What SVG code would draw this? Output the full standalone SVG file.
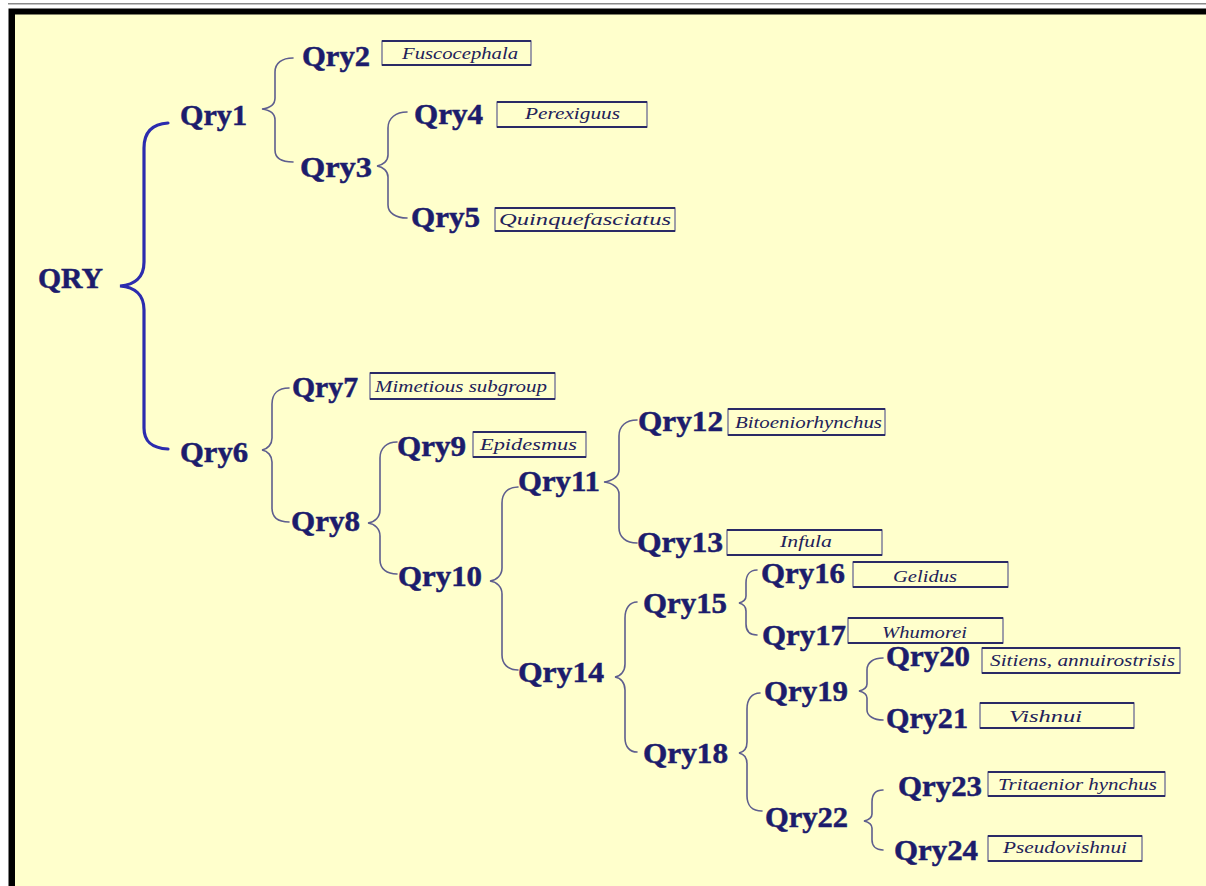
<svg xmlns="http://www.w3.org/2000/svg" width="1206" height="886" viewBox="0 0 1206 886">
<style>
.n{font-family:"Liberation Serif","Times New Roman",serif;font-weight:bold;font-size:29px;fill:#1c1c6c;stroke:#1c1c6c;stroke-width:0.5}
.t{font-family:"Liberation Serif","Times New Roman",serif;font-style:italic;font-size:17.5px;fill:#22225a}
.bx{fill:none;stroke:#6a6a94;stroke-width:1.3}
.bt{stroke:#2a2a66;stroke-width:2;fill:none}
.br{fill:none;stroke:#5e5e8e;stroke-width:1.6;stroke-linecap:round}
.bm{fill:none;stroke:#2c2cae;stroke-width:3.2;stroke-linecap:round}
</style>
<rect x="0" y="0" width="1206" height="886" fill="#ffffff"/>
<line x1="8" y1="3.8" x2="1206" y2="3.8" stroke="#8a8a8a" stroke-width="1.4"/>
<rect x="8.5" y="8.5" width="1197.5" height="877.5" fill="#000000"/>
<rect x="15" y="14.5" width="1191" height="871.5" fill="#ffffcc"/>

<g id="connectors">
<path class="bm" d="M168,123 C152,124 144,132 144,148 L144,262 C144,278 134,285 120,286 C134,287 144,294 144,310 L144,428 C144,442 152,448 168,449"/>
<path class="br" d="M293,58 C282,58 275,63 275,72 L275,98 C275,104 270,108 262,109 C270,110 275,114 275,120 L275,150 C275,158 282,162 293,162"/>
<path class="br" d="M407,112 C396,112 388,118 388,128 L388,155 C388,161 383,165 377,166 C383,167 388,171 388,177 L388,205 C388,213 396,218 407,218"/>
<path class="br" d="M289,388 C278,388 272,394 272,404 L272,438 C272,444 268,449 262,450 C268,451 272,456 272,462 L272,508 C272,517 278,522 289,522"/>
<path class="br" d="M397,442 C387,442 380,448 380,458 L380,510 C380,517 375,522 368,523 C375,524 380,529 380,536 L380,560 C380,569 387,574 397,574"/>
<path class="br" d="M518,487 C508,487 502,493 502,503 L502,568 C502,575 497,580 490,581 C497,582 502,587 502,594 L502,655 C502,664 508,670 518,670"/>
<path class="br" d="M637,420 C626,420 619,426 619,436 L619,470 C619,476 613,481 604,482 C613,483 619,488 619,494 L619,528 C619,537 626,543 637,543"/>
<path class="br" d="M637,602 C630,602 625,608 625,618 L625,664 C625,671 621,676 615,677 C621,678 625,683 625,690 L625,738 C625,747 630,752 637,752"/>
<path class="br" d="M757,570 C750,570 746,575 746,583 L746,596 C746,600 743,602 739,603 C743,604 746,607 746,611 L746,624 C746,631 750,635 757,635"/>
<path class="br" d="M760,693 C752,693 747,699 747,709 L747,742 C747,748 744,752 739,753 C744,754 747,758 747,764 L747,796 C747,805 752,811 762,811"/>
<path class="br" d="M883,658 C874,658 867,662 867,670 L867,684 C867,688 863,690 859,691 C863,692 867,694 867,698 L867,710 C867,716 874,720 883,720"/>
<path class="br" d="M883,790 C876,790 872,794 872,802 L872,814 C872,818 868,820 864,821 C868,822 872,824 872,828 L872,840 C872,846 876,850 883,850"/>
</g>

<g id="QRY"><text class="n" x="38" y="288" textLength="65" lengthAdjust="spacingAndGlyphs">QRY</text></g>
<g id="Qry1"><text class="n" x="180" y="125" textLength="67" lengthAdjust="spacingAndGlyphs">Qry1</text></g>
<g id="Qry2"><text class="n" x="302" y="66" textLength="68" lengthAdjust="spacingAndGlyphs">Qry2</text>
<rect class="bx" x="382" y="41" width="149" height="24"/><line class="bt" x1="382" y1="41" x2="531" y2="41"/><line class="bt" x1="382" y1="65" x2="531" y2="65"/>
<text class="t" x="402" y="59" textLength="116" lengthAdjust="spacingAndGlyphs">Fuscocephala</text></g>
<g id="Qry3"><text class="n" x="300" y="177" textLength="72" lengthAdjust="spacingAndGlyphs">Qry3</text></g>
<g id="Qry4"><text class="n" x="414" y="124" textLength="69" lengthAdjust="spacingAndGlyphs">Qry4</text>
<rect class="bx" x="497" y="102" width="150" height="25"/><line class="bt" x1="497" y1="102" x2="647" y2="102"/><line class="bt" x1="497" y1="127" x2="647" y2="127"/>
<text class="t" x="525" y="119" textLength="95" lengthAdjust="spacingAndGlyphs">Perexiguus</text></g>
<g id="Qry5"><text class="n" x="411" y="227" textLength="69" lengthAdjust="spacingAndGlyphs">Qry5</text>
<rect class="bx" x="495" y="208" width="180" height="23"/><line class="bt" x1="495" y1="208" x2="675" y2="208"/><line class="bt" x1="495" y1="231" x2="675" y2="231"/>
<text class="t" x="499" y="225" textLength="172" lengthAdjust="spacingAndGlyphs">Quinquefasciatus</text></g>
<g id="Qry6"><text class="n" x="180" y="462" textLength="68" lengthAdjust="spacingAndGlyphs">Qry6</text></g>
<g id="Qry7"><text class="n" x="292" y="397" textLength="66" lengthAdjust="spacingAndGlyphs">Qry7</text>
<rect class="bx" x="370" y="373" width="185" height="26"/><line class="bt" x1="370" y1="373" x2="555" y2="373"/><line class="bt" x1="370" y1="399" x2="555" y2="399"/>
<text class="t" x="375" y="392" textLength="172" lengthAdjust="spacingAndGlyphs">Mimetious subgroup</text></g>
<g id="Qry8"><text class="n" x="291" y="531" textLength="69" lengthAdjust="spacingAndGlyphs">Qry8</text></g>
<g id="Qry9"><text class="n" x="397" y="456" textLength="69" lengthAdjust="spacingAndGlyphs">Qry9</text>
<rect class="bx" x="473" y="432" width="113" height="25"/><line class="bt" x1="473" y1="432" x2="586" y2="432"/><line class="bt" x1="473" y1="457" x2="586" y2="457"/>
<text class="t" x="480" y="450" textLength="97" lengthAdjust="spacingAndGlyphs">Epidesmus</text></g>
<g id="Qry10"><text class="n" x="398" y="586" textLength="84" lengthAdjust="spacingAndGlyphs">Qry10</text></g>
<g id="Qry11"><text class="n" x="518" y="491" textLength="82" lengthAdjust="spacingAndGlyphs">Qry11</text></g>
<g id="Qry12"><text class="n" x="638" y="431" textLength="85" lengthAdjust="spacingAndGlyphs">Qry12</text>
<rect class="bx" x="728" y="409" width="157" height="26"/><line class="bt" x1="728" y1="409" x2="885" y2="409"/><line class="bt" x1="728" y1="435" x2="885" y2="435"/>
<text class="t" x="735" y="428" textLength="147" lengthAdjust="spacingAndGlyphs">Bitoeniorhynchus</text></g>
<g id="Qry13"><text class="n" x="637" y="552" textLength="86" lengthAdjust="spacingAndGlyphs">Qry13</text>
<rect class="bx" x="727" y="530" width="155" height="25"/><line class="bt" x1="727" y1="530" x2="882" y2="530"/><line class="bt" x1="727" y1="555" x2="882" y2="555"/>
<text class="t" x="780" y="547" textLength="52" lengthAdjust="spacingAndGlyphs">Infula</text></g>
<g id="Qry14"><text class="n" x="518" y="682" textLength="86" lengthAdjust="spacingAndGlyphs">Qry14</text></g>
<g id="Qry15"><text class="n" x="643" y="613" textLength="84" lengthAdjust="spacingAndGlyphs">Qry15</text></g>
<g id="Qry16"><text class="n" x="761" y="583" textLength="84" lengthAdjust="spacingAndGlyphs">Qry16</text>
<rect class="bx" x="853" y="562" width="155" height="25"/><line class="bt" x1="853" y1="562" x2="1008" y2="562"/><line class="bt" x1="853" y1="587" x2="1008" y2="587"/>
<text class="t" x="893" y="582" textLength="64" lengthAdjust="spacingAndGlyphs">Gelidus</text></g>
<g id="Qry17"><text class="n" x="762" y="645" textLength="84" lengthAdjust="spacingAndGlyphs">Qry17</text>
<rect class="bx" x="848" y="618" width="155" height="25"/><line class="bt" x1="848" y1="618" x2="1003" y2="618"/><line class="bt" x1="848" y1="643" x2="1003" y2="643"/>
<text class="t" x="882" y="638" textLength="85" lengthAdjust="spacingAndGlyphs">Whumorei</text></g>
<g id="Qry18"><text class="n" x="643" y="763" textLength="85" lengthAdjust="spacingAndGlyphs">Qry18</text></g>
<g id="Qry19"><text class="n" x="764" y="701" textLength="84" lengthAdjust="spacingAndGlyphs">Qry19</text></g>
<g id="Qry20"><text class="n" x="886" y="666" textLength="84" lengthAdjust="spacingAndGlyphs">Qry20</text>
<rect class="bx" x="982" y="648" width="198" height="25"/><line class="bt" x1="982" y1="648" x2="1180" y2="648"/><line class="bt" x1="982" y1="673" x2="1180" y2="673"/>
<text class="t" x="990" y="666" textLength="185" lengthAdjust="spacingAndGlyphs">Sitiens, annuirostrisis</text></g>
<g id="Qry21"><text class="n" x="886" y="728" textLength="82" lengthAdjust="spacingAndGlyphs">Qry21</text>
<rect class="bx" x="980" y="703" width="154" height="25"/><line class="bt" x1="980" y1="703" x2="1134" y2="703"/><line class="bt" x1="980" y1="728" x2="1134" y2="728"/>
<text class="t" x="1009" y="722" textLength="73" lengthAdjust="spacingAndGlyphs">Vishnui</text></g>
<g id="Qry22"><text class="n" x="765" y="827" textLength="83" lengthAdjust="spacingAndGlyphs">Qry22</text></g>
<g id="Qry23"><text class="n" x="898" y="796" textLength="84" lengthAdjust="spacingAndGlyphs">Qry23</text>
<rect class="bx" x="988" y="772" width="177" height="24"/><line class="bt" x1="988" y1="772" x2="1165" y2="772"/><line class="bt" x1="988" y1="796" x2="1165" y2="796"/>
<text class="t" x="998" y="790" textLength="159" lengthAdjust="spacingAndGlyphs">Tritaenior hynchus</text></g>
<g id="Qry24"><text class="n" x="894" y="860" textLength="84" lengthAdjust="spacingAndGlyphs">Qry24</text>
<rect class="bx" x="988" y="836" width="154" height="25"/><line class="bt" x1="988" y1="836" x2="1142" y2="836"/><line class="bt" x1="988" y1="861" x2="1142" y2="861"/>
<text class="t" x="1003" y="853" textLength="124" lengthAdjust="spacingAndGlyphs">Pseudovishnui</text></g>
</svg>
